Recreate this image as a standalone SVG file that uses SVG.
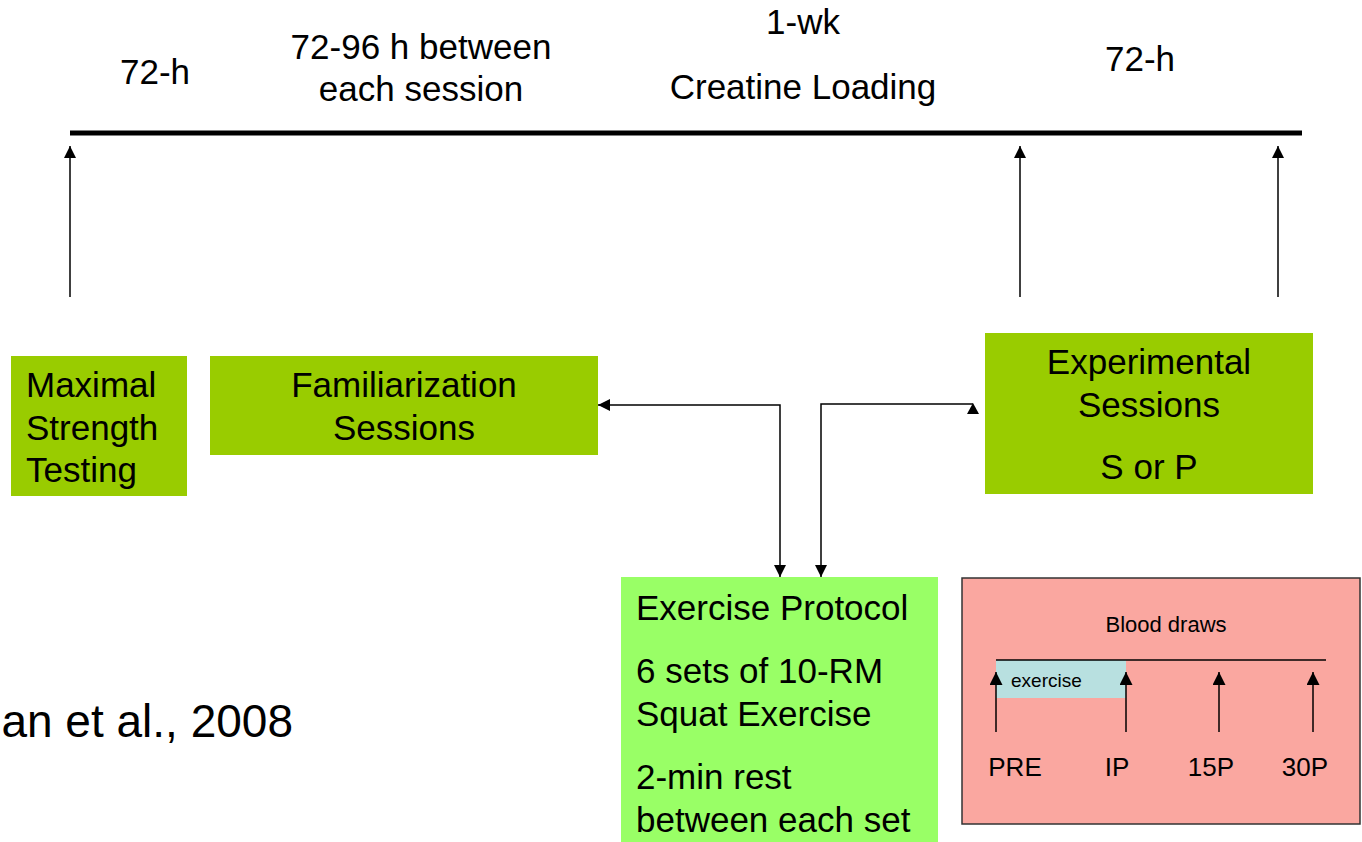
<svg xmlns="http://www.w3.org/2000/svg" width="1362" height="842" viewBox="0 0 1362 842">
<style>
text{font-family:"Liberation Sans",Arial,sans-serif;fill:#000}
.big{font-size:35px}
.mid{font-size:26px}
.sm{font-size:22px}
.c{text-anchor:middle}
.g1{fill:#99CC00}
.g2{fill:#99FF66}
.ln{stroke:#000;stroke-width:1.5;fill:none}
</style>
<defs>
<marker id="ah" viewBox="0 0 10 10" refX="10" refY="5" markerWidth="12" markerHeight="12" markerUnits="userSpaceOnUse" orient="auto-start-reverse">
<path d="M0,0 L10,5 L0,10 z" fill="#000"/>
</marker>
<marker id="ah2" viewBox="0 0 10 10" refX="10" refY="5" markerWidth="13" markerHeight="13" markerUnits="userSpaceOnUse" orient="auto">
<path d="M0,0 L10,5 L0,10 z" fill="#000"/>
</marker>
</defs>
<rect width="1362" height="842" fill="#fff"/>

<g id="timeline">
<line x1="70" y1="133" x2="1302" y2="133" stroke="#000" stroke-width="5"/>
<text class="big c" x="155" y="84">72-h</text>
<text class="big c" x="421" y="59">72-96 h between</text>
<text class="big c" x="421" y="101">each session</text>
<text class="big c" x="803" y="34">1-wk</text>
<text class="big c" x="803" y="99">Creatine Loading</text>
<text class="big c" x="1140" y="71">72-h</text>
</g>

<g id="maximal">
<rect class="g1" x="11" y="356" width="176" height="140"/>
<text class="big" x="26" y="397">Maximal</text>
<text class="big" x="26" y="440">Strength</text>
<text class="big" x="26" y="482">Testing</text>
</g>

<g id="familiarization">
<rect class="g1" x="210" y="356" width="388" height="99"/>
<text class="big c" x="404" y="397">Familiarization</text>
<text class="big c" x="404" y="440">Sessions</text>
</g>

<g id="experimental">
<rect class="g1" x="985" y="333" width="328" height="161"/>
<text class="big c" x="1149" y="374">Experimental</text>
<text class="big c" x="1149" y="417">Sessions</text>
<text class="big c" x="1149" y="479">S or P</text>
</g>

<g id="exercise-protocol">
<rect class="g2" x="621" y="577" width="317" height="265"/>
<text class="big" x="636" y="620">Exercise Protocol</text>
<text class="big" x="636" y="683">6 sets of 10-RM</text>
<text class="big" x="636" y="726">Squat Exercise</text>
<text class="big" x="636" y="789">2-min rest</text>
<text class="big" x="636" y="832">between each set</text>
</g>

<g id="blood-draws">
<rect x="962" y="578" width="398" height="246" fill="#FAA7A0" stroke="#333" stroke-width="1.5"/>
<text class="sm c" x="1166" y="632">Blood draws</text>
<rect x="996" y="660" width="130" height="38" fill="#B8E0E0"/>
<line x1="996" y1="660" x2="1326" y2="660" stroke="#000" stroke-width="1.5"/>
<text x="1011" y="687" style="font-size:19px">exercise</text>
<line class="ln" x1="996" y1="732" x2="996" y2="672" marker-end="url(#ah2)"/>
<line class="ln" x1="1126" y1="732" x2="1126" y2="672" marker-end="url(#ah2)"/>
<line class="ln" x1="1219" y1="732" x2="1219" y2="672" marker-end="url(#ah2)"/>
<line class="ln" x1="1313" y1="732" x2="1313" y2="672" marker-end="url(#ah2)"/>
<text class="mid c" x="1015" y="776">PRE</text>
<text class="mid c" x="1117" y="776">IP</text>
<text class="mid c" x="1211" y="776">15P</text>
<text class="mid c" x="1305" y="776">30P</text>
</g>

<g id="citation">
<text x="293" y="737" style="font-size:46px;text-anchor:end">an et al., 2008</text>
</g>

<g id="connectors">
<line class="ln" x1="70" y1="297" x2="70" y2="146" marker-end="url(#ah)"/>
<line class="ln" x1="1020" y1="297" x2="1020" y2="146" marker-end="url(#ah)"/>
<line class="ln" x1="1278" y1="297" x2="1278" y2="146" marker-end="url(#ah)"/>
<path class="ln" d="M598,405 H780 V577" marker-start="url(#ah)" marker-end="url(#ah)"/>
<path class="ln" d="M973,404 H821 V577" marker-end="url(#ah)"/>
<polygon points="973,403 979,414 967,414" fill="#000"/>
</g>
</svg>
